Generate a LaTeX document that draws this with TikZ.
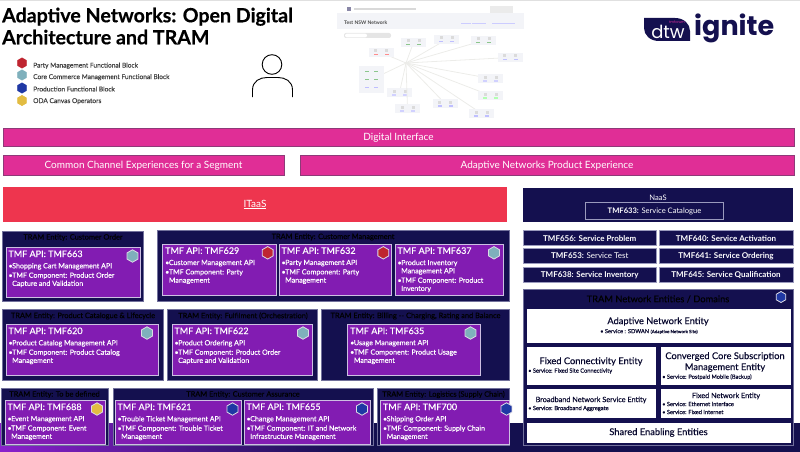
\documentclass[tikz,border=0pt]{standalone}
\usepackage{fontspec}
\setmainfont{Lato}
\newfontfamily\logofont{Poppins}
\newfontfamily\medfont[FakeBold=0.2]{Lato}
\newfontfamily\headfont[FakeBold=0.5]{Lato Bold}
\usetikzlibrary{positioning}
\usetikzlibrary{calc}
\usetikzlibrary{shapes.geometric}
\definecolor{navy}{HTML}{14104F}
\definecolor{inknavy}{HTML}{08082E}
\definecolor{magentabar}{HTML}{E02E96}
\definecolor{magentaedge}{HTML}{8E3A78}
\definecolor{redbar}{HTML}{EE354E}
\definecolor{cardpurple}{HTML}{821CB2}
\definecolor{cardedge}{HTML}{CDBFE2}
\definecolor{paneledge}{HTML}{9A9ABD}
\definecolor{bandpurple}{HTML}{8A20CC}
\definecolor{partyred}{HTML}{BF2530}
\definecolor{coreteal}{HTML}{7FB0BC}
\definecolor{prodblue}{HTML}{1F38A4}
\definecolor{canvasgold}{HTML}{E2BC42}
\definecolor{shotgrey}{HTML}{F3F4F8}
\definecolor{shotline}{HTML}{ECECE9}
\definecolor{pinklogo}{HTML}{D62C9A}
\tikzset{
  flatbox/.style={rectangle, anchor=north west, inner sep=0pt, outer sep=0pt, align=center},
  magentabox/.style={flatbox, fill=magentabar, draw=magentaedge, line width=.8pt, text=white, text height=7pt, text depth=0pt, font=\fontsize{10}{12}\selectfont},
  navybox/.style={flatbox, fill=navy, draw=paneledge, line width=.7pt, text=white, text height=6pt, text depth=0pt, font=\bfseries\fontsize{8}{10}\selectfont},
  panelbox/.style={flatbox, fill=navy, draw=paneledge!70!navy, line width=.7pt},
  whitebox/.style={flatbox, fill=white, draw=navy, line width=.5pt, text=inknavy, font=\medfont\fontsize{9.3}{11}\selectfont},
  cardbox/.style={flatbox, fill=cardpurple, draw=cardedge, line width=.9pt},
  panellabel/.style={text=black, font=\medfont\fontsize{7.4}{9}\selectfont, inner sep=0pt},
  cardtitle/.style={anchor=north west, inner sep=0pt, text=white, font=\medfont\fontsize{9}{11}\selectfont},
  cardbody/.style={anchor=north west, inner sep=0pt, text=white, align=left, font=\medfont\fontsize{7.1}{8.2}\selectfont},
  hexmark/.style={regular polygon, regular polygon sides=6, shape border rotate=30, minimum size=12.5pt, inner sep=0pt, line width=.8pt, draw=#1},
  hexmark/.default={white!85!navy},
  legendtext/.style={anchor=west, inner sep=0pt, text=black!75, font=\medfont\fontsize{6.6}{8}\selectfont},
  svctext/.style={anchor=west, inner sep=0pt, text=inknavy, font=\medfont\fontsize{5.7}{7}\selectfont},
  entitytext/.style={inner sep=0pt, align=center, text=inknavy, font=\medfont\fontsize{#1}{11}\selectfont},
  shotbox/.style={rectangle, fill=shotgrey, minimum width=25pt, minimum height=9pt, inner sep=0pt},
}
\newcommand{\bul}{\makebox[3.7pt][l]{\textbullet}}
\newcommand{\cont}{\hspace*{3.7pt}}
% box from corner to corner: style, name, x1, y1, x2, y2, text
\newcommand{\cornerbox}[7]{%
  \node[#1, minimum width={(#5-#3)*1pt}, minimum height={(#6-#4)*1pt}] (#2) at (#3,#4) {#7};}
% card: name, x1, y1, x2, y2, number, hexagon x, hexagon colour, lines
\newcommand{\apicard}[9]{%
  \cornerbox{cardbox}{#1}{#2}{#3}{#4}{#5}{}
  \node[cardtitle, below right=2.8pt and 2.3pt of #1.north west] (#1-title) {TMF API: #6};
  \node[cardbody, below=5.6pt of #1-title.south west, anchor=north west] (#1-body) {#9};
  \node[hexmark, fill=#8] (#1-hex) at (#7,#3+8.5) {};}
\begin{document}
\begin{tikzpicture}[x=1pt, y=-1pt]
  \useasboundingbox (0,0) rectangle (800,452);
  % page edge and bottom band
  \fill[black!12] (0,0) rectangle (800,1);
  \fill[left color=bandpurple, right color=navy] (0,423) rectangle (350,452);
  \fill[navy] (350,423) rectangle (800,452);
  % heading and legend
  \node[anchor=north west, inner sep=0pt, align=left, text=black, font=\headfont\fontsize{19.6}{22}\selectfont] (heading) at (2,7.5) {Adaptive Networks: Open Digital\\Architecture and TRAM};
  \node[hexmark=partyred, fill=partyred, minimum size=10pt] (hexparty) at (22,63) {};
  \node[hexmark=coreteal, fill=coreteal, minimum size=10pt] (hexcore) at (22,75) {};
  \node[hexmark=prodblue, fill=prodblue, minimum size=10pt] (hexprod) at (22,88) {};
  \node[hexmark=canvasgold, fill=canvasgold, minimum size=10pt] (hexcanvas) at (22,100.5) {};
  \node[legendtext] (legparty) at (33,65.7) {Party Management Functional Block};
  \node[legendtext] (legcore) at (33,77.2) {Core Commerce Management Functional Block};
  \node[legendtext] (legprod) at (33,89) {Production Functional Block};
  \node[legendtext] (legcanvas) at (33,101.2) {ODA Canvas Operators};
  % person
  \draw[line width=.9pt] (272,64.5) circle (9.8);
  \draw[line width=.9pt] (252.5,97) -- (252.5,90) .. controls (252.5,81) and (260,77.5) .. (267,77.5) -- (278,77.5) .. controls (285,77.5) and (292.5,81) .. (292.5,90) -- (292.5,97);
  % screenshot
  \fill[shotgrey] (337,13) rectangle (524,29);
  \fill[navy!50] (347,7.5) rectangle (351,11);
  \fill[black!15] (354,8.5) rectangle (416,10);
  \fill[black!8] (490,6) rectangle (513,13);
  \node[inner sep=0pt, anchor=west, text=black!70, font=\bfseries\fontsize{5}{6}\selectfont] (shottitle) at (344,22.5) {Test NSW Network};
  \fill[blue!20] (461,23) rectangle (471,24.5);
  \fill[blue!20] (472,23) rectangle (486,24.5);
  \fill[blue!20] (492,23) rectangle (515,24.5);
  \fill[black!10, rounded corners=2pt] (344,33) rectangle (391,38);
  \fill[white, rounded corners=2pt] (345,33.6) rectangle (367,37.4);
  \coordinate (hub) at (406,63);
  \fill[white] (hub) circle (2.5);
  \foreach \nm/\x/\y/\mk in {sa/381/52.5/red!45, sb/413.5/42.5/green!50!black!45, sc/446.5/39.5/blue!25, sd/483.5/40.5/green!50!black!45, se/510/57.5/blue!25, sf/490.5/78.5/blue!18, sg/490.5/95.5/green!30, sh/481.5/113.5/blue!25, si/445/103.5/blue!25, sj/399.5/92.5/blue!18, sk/407.5/108.5/blue!18}{
    \draw[shotline, line width=.8pt] (hub) -- (\x,\y);
    \node[shotbox] (\nm) at (\x,\y) {};
    \fill[black!14] ($(\nm)+(-7,-3)$) rectangle ($(\nm)+(-4,0)$);
    \fill[black!14] ($(\nm)+(4,-3)$) rectangle ($(\nm)+(7,0)$);
    \fill[\mk] ($(\nm)+(-7.5,1.5)$) rectangle ($(\nm)+(-3.5,3)$);
    \fill[\mk] ($(\nm)+(3.5,1.5)$) rectangle ($(\nm)+(7.5,3)$);
  }
  \draw[shotline, line width=.8pt] (hub) -- (371.5,79.5);
  \node[shotbox, minimum height=27pt] (sl) at (371.5,79.5) {};
  \foreach \dy in {-9,-1}{
    \fill[green!50!black!45] ($(sl)+(-6.5,\dy)$) rectangle ($(sl)+(-2.5,\dy+1.5)$);
    \fill[green!50!black!45] ($(sl)+(2.5,\dy)$) rectangle ($(sl)+(6.5,\dy+1.5)$);
  }
  \fill[blue!25] ($(sl)+(-6.5,7)$) rectangle ($(sl)+(-2.5,8.5)$);
  \fill[blue!25] ($(sl)+(2.5,7)$) rectangle ($(sl)+(6.5,8.5)$);
  % logo
  \fill[navy] (644,18) -- (675,18) .. controls (684,18) and (690,24) .. (690,31) -- (690,41) -- (659,41) .. controls (650,41) and (644,35) .. (644,28) -- cycle;
  \node[inner sep=0pt, text=white, font=\logofont\fontsize{18}{19}\selectfont] (logodtw) at (668,32) {dtw};
  \node[inner sep=0pt, text=pinklogo, font=\logofont\fontsize{3.6}{4}\selectfont] (logoforum) at (677,22) {tmforum};
  \node[inner sep=0pt, anchor=west, text=navy, font=\logofont\bfseries\fontsize{27}{28}\selectfont] (logoignite) at (694,28) {ignite};
  % experience bars
  \cornerbox{magentabox}{digital}{3}{128}{794}{146}{Digital Interface}
  \cornerbox{magentabox}{channel}{3}{155}{284}{175}{Common Channel Experiences for a Segment}
  \cornerbox{magentabox}{product}{300}{155}{794}{175}{Adaptive Networks Product Experience}
  % itaas and naas
  \cornerbox{flatbox, fill=redbar, text=white, font=\fontsize{10}{12}\selectfont}{itaas}{3}{187}{507}{222}{\underline{ITaaS}}
  \cornerbox{flatbox, fill=navy}{naas}{523}{187.5}{793}{222}{}
  \node[inner sep=0pt, text=white, font=\fontsize{7.6}{9}\selectfont] (naastext) at (658,198) {NaaS};
  \cornerbox{flatbox, draw=paneledge, line width=.7pt, text=white, font=\fontsize{7.6}{9}\selectfont}{catalogue}{585.5}{202.5}{723.5}{219.5}{\textbf{TMF633:} Service Catalogue}
  \cornerbox{navybox}{svcproblem}{523}{230.5}{656.5}{245.5}{TMF656: Service Problem}
  \cornerbox{navybox}{svcactive}{659}{230.5}{793}{245.5}{TMF640: Service Activation}
  \cornerbox{navybox}{svctest}{523}{248.5}{656.5}{263}{TMF653: \mdseries Service Test}
  \cornerbox{navybox}{svcorder}{659}{248.5}{793}{263}{TMF641: Service Ordering}
  \cornerbox{navybox}{svcinv}{523}{267}{656.5}{282}{TMF638: Service Inventory}
  \cornerbox{navybox}{svcqual}{659}{267}{793}{282}{TMF645: Service Qualification}
  % network entities
  \cornerbox{panelbox}{netpanel}{523}{289}{793}{445}{}
  \node[panellabel, font=\medfont\fontsize{9.3}{11}\selectfont] (nettitle) at (658,299) {TRAM Network Entities / Domains};
  \node[hexmark=white!85!navy, fill=prodblue, minimum size=11pt] (nethex) at (781,297) {};
  \cornerbox{whitebox}{adaptive}{526}{308}{791}{343}{}
  \cornerbox{whitebox}{fixedconn}{526}{346}{656}{385}{}
  \cornerbox{whitebox}{converged}{660}{346}{791}{385}{}
  \cornerbox{whitebox}{broadband}{526}{388.5}{656}{418}{}
  \cornerbox{whitebox}{fixednet}{660}{388.5}{791}{418}{}
  \cornerbox{whitebox}{shared}{526}{422}{791}{443}{Shared Enabling Entities}
  \node[entitytext=9.3] (adaptivetext) at (658,321.5) {Adaptive Network Entity};
  \node[svctext] (adaptivesvc) at (600,331.5) {\bul\hspace{1pt}Service : SDWAN {\fontsize{4.5}{6}\selectfont(Adaptive Network Site)}};
  \node[entitytext=9.3] (fixedconntext) at (591,361.5) {Fixed Connectivity Entity};
  \node[svctext] (fixedconnsvc) at (528,371) {\bul\hspace{1pt}Service: Fixed Site Connectivity};
  \node[entitytext=9.3] (convergedtext) at (725,362) {Converged Core Subscription\\Management Entity};
  \node[svctext] (convergedsvc) at (662,377) {\bul\hspace{1pt}Service: Postpaid Mobile (Backup)};
  \node[entitytext=7.3] (broadbandtext) at (591,400) {Broadband Network Service Entity};
  \node[svctext] (broadbandsvc) at (528,408.5) {\bul\hspace{1pt}Service: Broadband Aggregate};
  \node[entitytext=7.3] (fixednettext) at (726,396) {Fixed Network Entity};
  \node[svctext] (fixednetsvca) at (662,404) {\bul\hspace{1pt}Service: Ethernet Interface};
  \node[svctext] (fixednetsvcb) at (662,412) {\bul\hspace{1pt}Service: Fixed Internet};
  % entity panels, top row
  \cornerbox{panelbox}{pnlorder}{2}{231}{143.5}{301.5}{}
  \node[panellabel] (txtorder) at (73,237.5) {TRAM Entity: Customer Order};
  \apicard{c663}{6}{247.5}{140.5}{297.5}{TMF663}{132.5}{coreteal}{\bul Shopping Cart Management API\\[1.2pt]\bul TMF Component: Product Order\\\cont Capture and Validation}
  \cornerbox{panelbox}{pnlcust}{157}{230}{509.5}{301}{}
  \node[panellabel] (txtcust) at (333,237) {TRAM Entity: Customer Management};
  \apicard{c629}{162.7}{244.3}{276}{295.7}{TMF629}{267.7}{partyred}{\bul Customer Management API\\[1.2pt]\bul TMF Component: Party\\\cont Management}
  \apicard{c632}{279}{244.3}{391.7}{295.7}{TMF632}{383.3}{partyred}{\bul Party Management API\\[1.2pt]\bul TMF Component: Party\\\cont Management}
  \apicard{c637}{395}{244.3}{503.3}{295.7}{TMF637}{494}{coreteal}{\bul Product Inventory\\\cont Management API\\[1.2pt]\bul TMF Component: Product\\\cont Inventory}
  % entity panels, middle row
  \cornerbox{panelbox}{pnlcat}{2.5}{309.5}{163.5}{380}{}
  \node[panellabel] (txtcat) at (83,316) {TRAM Entity: Product Catalogue \& Lifecycle};
  \apicard{c620}{6}{324.5}{158.5}{375.5}{TMF620}{147}{coreteal}{\bul Product Catalog Management API\\[1.2pt]\bul TMF Component: Product Catalog\\\cont Management}
  \cornerbox{panelbox}{pnlful}{167.5}{309.5}{317.7}{380}{}
  \node[panellabel] (txtful) at (243,316) {TRAM Entity: Fulfilment (Orchestration)};
  \apicard{c622}{172}{324.5}{312}{375.5}{TMF622}{303}{coreteal}{\bul Product Ordering API\\[1.2pt]\bul TMF Component: Product Order\\\cont Capture and Validation}
  \cornerbox{panelbox}{pnlbill}{321.7}{309.5}{509.3}{380}{}
  \node[panellabel] (txtbill) at (415.5,316) {TRAM Entity: Billing -- Charging, Rating and Balance};
  \apicard{c635}{347.7}{324.5}{480}{375.5}{TMF635}{470.5}{coreteal}{\bul Usage Management API\\[1.2pt]\bul TMF Component: Product Usage\\\cont Management}
  % entity panels, bottom row
  \cornerbox{panelbox}{pnldef}{1.5}{388.5}{108}{445.5}{}
  \node[panellabel] (txtdef) at (54.5,394.5) {TRAM Entity: To be defined};
  \apicard{c688}{5}{400.5}{105.5}{444}{TMF688}{97}{canvasgold}{\bul Event Management API\\[1.2pt]\bul TMF Component: Event\\\cont Management}
  \cornerbox{panelbox}{pnlass}{113}{388.5}{373}{445.5}{}
  \node[panellabel] (txtass) at (243,394.5) {TRAM Entity: Customer Assurance};
  \apicard{c621}{115}{400.5}{241}{444}{TMF621}{232.5}{prodblue}{\bul Trouble Ticket Management API\\[1.2pt]\bul TMF Component: Trouble Ticket\\\cont Management}
  \apicard{c655}{244}{400.5}{370.7}{444}{TMF655}{362}{prodblue}{\bul Change Management API\\[1.2pt]\bul TMF Component: IT and Network\\\cont Infrastructure Management}
  \cornerbox{panelbox}{pnllog}{377.7}{388.5}{509.3}{445.5}{}
  \node[panellabel] (txtlog) at (443.5,394.5) {TRAM Entity: Logistics (Supply Chain)};
  \apicard{c700}{380.5}{400.5}{509.3}{444}{TMF700}{506.5}{prodblue}{\bul Shipping Order API\\[1.2pt]\bul TMF Component: Supply Chain\\\cont Management}
\end{tikzpicture}
\end{document}
